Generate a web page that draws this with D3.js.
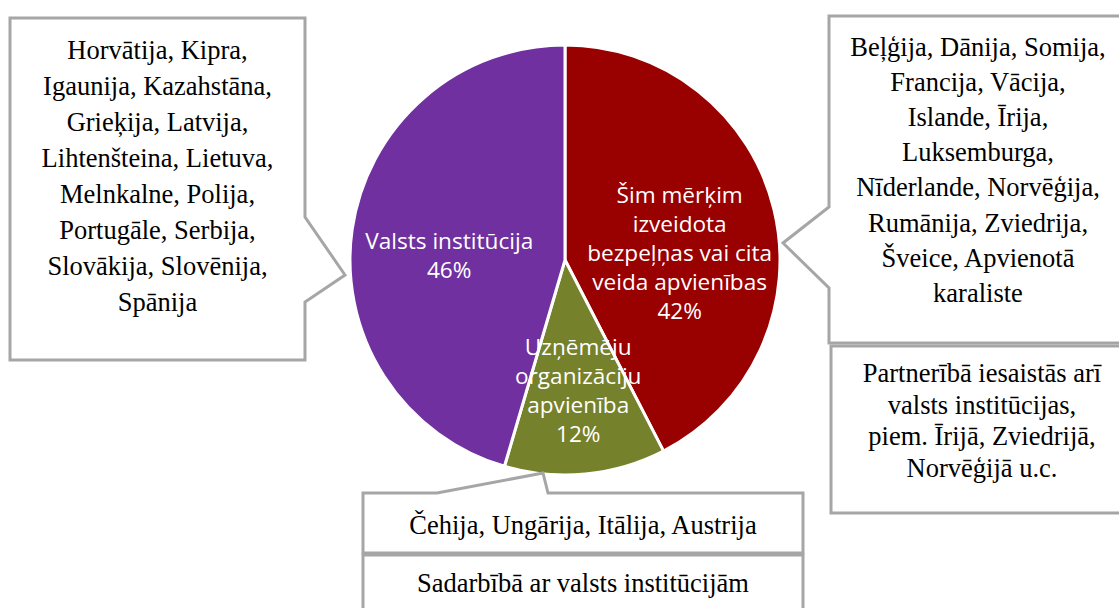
<!DOCTYPE html>
<html>
<head>
<meta charset="utf-8">
<script src="https://cdn.jsdelivr.net/npm/d3@7"></script>
<style>
  body { margin: 0; background: #fff; }
  svg { display: block; }
</style>
</head>
<body>
<svg id="chart" width="1119" height="608"></svg>
<script>
// slice data (clockwise from 12 o'clock)
const categories = [
  ['Šim mērķim', 'izveidota', 'bezpeļņas vai cita', 'veida apvienības'],
  ['Uzņēmēju', 'organizāciju', 'apvienība'],
  ['Valsts institūcija']
];
const countryCounts = [14, 4, 15];          // slice sizes = number of countries listed
const pctLabels = ['42%', '12%', '46%'];    // percentages as printed on the chart
const sliceColors = ['#990000', '#76812b', '#7030a0'];

// callout texts
const leftNote = ['Horvātija, Kipra,', 'Igaunija, Kazahstāna,', 'Grieķija, Latvija,', 'Lihtenšteina, Lietuva,',
  'Melnkalne, Polija,', 'Portugāle, Serbija,', 'Slovākija, Slovēnija,', 'Spānija'];
const rightNote = ['Beļģija, Dānija, Somija,', 'Francija, Vācija,', 'Islande, Īrija,', 'Luksemburga,',
  'Nīderlande, Norvēģija,', 'Rumānija, Zviedrija,', 'Šveice, Apvienotā', 'karaliste'];
const rightSubNote = ['Partnerībā iesaistās arī', 'valsts institūcijas,', 'piem. Īrijā, Zviedrijā,', 'Norvēģijā u.c.'];
const bottomNote = ['Čehija, Ungārija, Itālija, Austrija'];
const bottomSubNote = ['Sadarbībā ar valsts institūcijām'];

const CX = 565, CY = 260, R = 215;
const BORDER = '#a6a6a6';
const SERIF = '"Liberation Serif", "Times New Roman", serif';
const SANS = '"Open Sans", "Noto Sans", sans-serif';

const svg = d3.select('#chart');
svg.append('rect').attr('width', 1119).attr('height', 608).attr('fill', '#fff');

const pie = d3.pie().sort(null).value(d => d.value);
const arcs = pie(countryCounts.map((v, i) => ({
  value: v, lines: categories[i], pct: pctLabels[i], color: sliceColors[i]
})));

const arc = d3.arc().innerRadius(0).outerRadius(R);
const labelArc = d3.arc().innerRadius(118).outerRadius(118);

const g = svg.append('g').attr('transform', `translate(${CX},${CY})`);

g.selectAll('path.slice')
  .data(arcs)
  .enter()
  .append('path')
  .attr('class', 'slice')
  .attr('d', arc)
  .attr('fill', d => d.data.color)
  .attr('stroke', '#fff')
  .attr('stroke-width', 3)
  .attr('stroke-linejoin', 'round');

// small nudges from the centroid, the way the original placed them
const nudge = [[0, 21], [2, 13], [1, 12]];
const pitch = 29;

g.selectAll('text.lbl')
  .data(arcs)
  .enter()
  .append('text')
  .attr('class', 'lbl')
  .attr('fill', '#fff')
  .attr('font-family', SANS)
  .attr('font-size', 22.6)
  .attr('text-anchor', 'middle')
  .each(function (d, i) {
    const [x, y] = labelArc.centroid(d);
    const lines = d.data.lines.concat([d.data.pct]);
    const cx = x + nudge[i][0];
    const top = y + nudge[i][1] - (lines.length - 1) * pitch / 2 + 8;
    d3.select(this).selectAll('tspan')
      .data(lines)
      .enter()
      .append('tspan')
      .attr('x', cx)
      .attr('y', (l, k) => top + k * pitch)
      .text(l => l);
  });

// callout boxes
const drawBox = (pathD, lines, cx, firstBase, step) => {
  svg.append('path')
    .attr('d', pathD)
    .attr('fill', '#fff')
    .attr('stroke', BORDER)
    .attr('stroke-width', 3)
    .attr('stroke-linejoin', 'miter');
  const t = svg.append('text')
    .attr('font-family', SERIF)
    .attr('font-size', 26.5)
    .attr('fill', '#000')
    .attr('text-anchor', 'middle');
  t.selectAll('tspan')
    .data(lines)
    .enter()
    .append('tspan')
    .attr('x', cx)
    .attr('y', (l, k) => firstBase + k * step)
    .text(l => l);
};

drawBox('M10,18H305V217L345,275L305,302V360H10Z', leftNote, 157.5, 59, 36);
drawBox('M829,16H1130V343H829V288L783,243L829,207Z', rightNote, 978, 56, 35.1);
drawBox('M831,346H1135V513H831Z', rightSubNote, 982, 382, 31.7);
drawBox('M363,493H437L543,473L548,493H803V553H363Z', bottomNote, 583, 534, 0);
drawBox('M363,555H803V640H363Z', bottomSubNote, 583, 592, 0);
</script>
</body>
</html>
